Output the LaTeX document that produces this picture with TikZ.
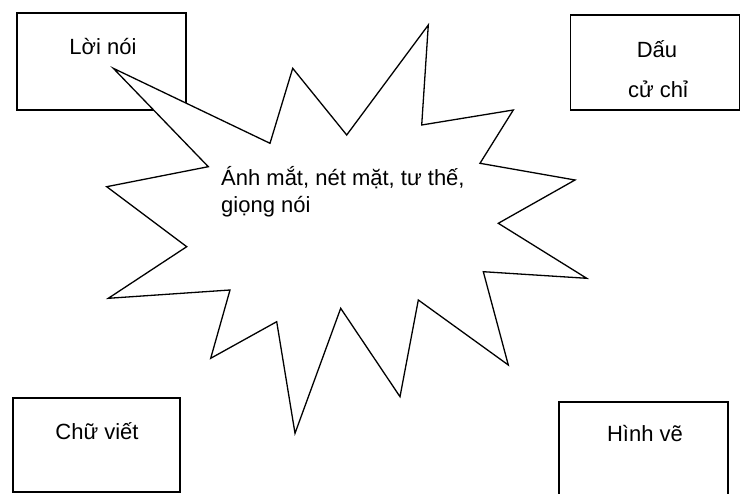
\documentclass[tikz,border=0pt]{standalone}
\usepackage{fontspec}
\setmainfont{Liberation Sans}
\begin{document}
\begin{tikzpicture}[x=1pt,y=-1pt,
  boxline/.style={draw=black,line width=1.5pt},
  lbl/.style={font=\fontsize{22}{27}\selectfont,inner sep=0pt,anchor=base},
  starline/.style={draw=black,line width=1.3pt,line join=miter}]
\useasboundingbox[fill=white] (0,0) rectangle (741,494);
% boxes
\node[boxline,minimum width=169pt,minimum height=97pt,inner sep=0pt] (b1) at (101.5,61.5) {};
\node[boxline,minimum width=169pt,minimum height=95pt,inner sep=0pt] (b2) at (655,62.5) {};
\node[boxline,minimum width=167pt,minimum height=94pt,inner sep=0pt] (b3) at (96.5,445) {};
\coordinate (b4a) at (559,497);
\coordinate (b4b) at (559,402);
\coordinate (b4c) at (728,402);
\coordinate (b4d) at (728,497);
\draw[boxline] (b4a) -- (b4b) -- (b4c) -- (b4d);
% star
\filldraw[starline,fill=white]
 (113.3,68.3) -- (270,143.3) -- (292.7,68.3) -- (346.7,135) -- (428.3,25)
 -- (421.7,125) -- (513.3,110) -- (480,163.3) -- (575,180) -- (498.3,223.3)
 -- (586.7,278.3) -- (483.3,271.7) -- (508.3,365) -- (418.3,300) -- (400,396.7)
 -- (340.7,308.3) -- (295,433.3) -- (276.7,321.7) -- (210.7,358.3) -- (230,290)
 -- (108.3,298.3) -- (186.7,246.7) -- (106.7,186.7) -- (208.3,166.7) -- cycle;
% labels
\node[lbl] (t1) at (103,55) {Lời nói};
\node[lbl] (t2a) at (657,58) {Dấu};
\node[lbl] (t2b) at (658,98) {cử chỉ};
\node[lbl] (t3) at (97,439) {Chữ viết};
\node[lbl] (t4) at (645,441.5) {Hình vẽ};
\node[lbl,anchor=base west] (t5a) at (221,186) {Ánh mắt, nét mặt, tư thế,};
\node[lbl,anchor=base west] (t5b) at (221,213) {giọng nói};
\end{tikzpicture}
\end{document}
